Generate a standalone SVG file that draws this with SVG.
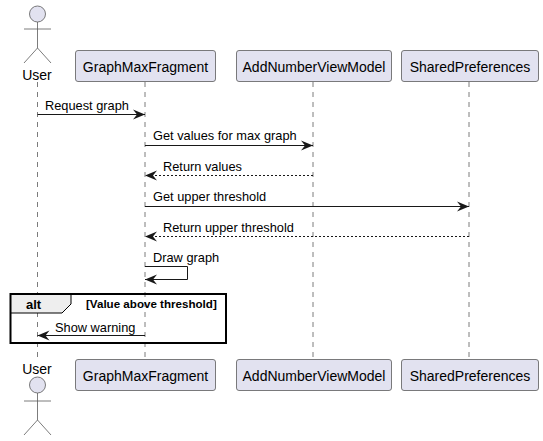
<svg xmlns="http://www.w3.org/2000/svg" width="543" height="441" viewBox="0 0 543 441">
<style>
text{font-family:"Liberation Sans",Arial,sans-serif;fill:#000}
.n{font-size:14px}
.m{font-size:12.8px}
.box{fill:#E2E2F0;stroke:#5B5B5B;stroke-width:.8}
.act{fill:none;stroke:#5B5B5B;stroke-width:.8}
.head{fill:#E2E2F0;stroke:#5B5B5B;stroke-width:.8}
.life{stroke:#5B5B5B;stroke-width:.8;stroke-dasharray:5 5;fill:none}
.msg{stroke:#181818;stroke-width:1;fill:none}
.dash{stroke-dasharray:2 2}
.ah{fill:#181818}
</style>
<defs>
<marker id="arrow" markerUnits="userSpaceOnUse" markerWidth="13" markerHeight="12" refX="12" refY="6" orient="auto-start-reverse">
<path d="M0 1 L12 6 L0 11 L4 6 Z" class="ah"/>
</marker>
</defs>
<rect width="543" height="441" fill="#fff"/>
<g id="lifelines">
<path class="life" d="M37.5 82V359"/>
<path class="life" d="M145 82V359"/>
<path class="life" d="M313 82V359"/>
<path class="life" d="M469 82V359"/>
</g>
<g id="alt-frame">
<path d="M10.5 294H71V304L62 313H10.5Z" fill="#EEEEEE" stroke="none"/>
<path d="M71 294V304L62 313H10.5" fill="none" stroke="#000" stroke-width="1"/>
<rect x="10.500" y="294" width="215.500" height="49" fill="none" stroke="#000" stroke-width="2"/>
<text x="26" y="309" font-size="13" font-weight="700">alt</text>
<text x="86" y="308" font-size="11.600" font-weight="700">[Value above threshold]</text>
</g>
<g id="connectors">
<path class="msg" d="M37.500 114.500H145" marker-end="url(#arrow)"/>
<path class="msg" d="M145 145.500H313" marker-end="url(#arrow)"/>
<path class="msg dash" d="M313 175.500H145" marker-end="url(#arrow)"/>
<path class="msg" d="M145 206.500H469" marker-end="url(#arrow)"/>
<path class="msg dash" d="M469 236.500H145" marker-end="url(#arrow)"/>
<path class="msg" d="M145 266.500H187.500V279.500H145" marker-end="url(#arrow)"/>
<path class="msg" d="M145 335.500H37.500" marker-end="url(#arrow)"/>
</g>
<g id="message-labels">
<text class="m" x="45" y="110">Request graph</text>
<text class="m" x="153" y="140">Get values for max graph</text>
<text class="m" x="163" y="171">Return values</text>
<text class="m" x="153" y="201">Get upper threshold</text>
<text class="m" x="163" y="232">Return upper threshold</text>
<text class="m" x="153" y="262">Draw graph</text>
<text class="m" x="55" y="332">Show warning</text>
</g>
<g id="user-top">
<circle class="head" cx="37.500" cy="14" r="8"/>
<path class="act" d="M37.500 22V48M24 29H51M24 63L37.500 48L51 63"/>
<text class="n" x="37" y="80" text-anchor="middle">User</text>
</g>
<g id="graphmaxfragment-top">
<rect class="box" x="75.500" y="50.500" width="140" height="31" rx="2.500"/>
<text class="n" x="145.500" y="72" text-anchor="middle">GraphMaxFragment</text>
</g>
<g id="addnumberviewmodel-top">
<rect class="box" x="236.500" y="50.500" width="155" height="31" rx="2.500"/>
<text class="n" x="314" y="72" text-anchor="middle">AddNumberViewModel</text>
</g>
<g id="sharedpreferences-top">
<rect class="box" x="401.500" y="50.500" width="137" height="31" rx="2.500"/>
<text class="n" x="470" y="72" text-anchor="middle">SharedPreferences</text>
</g>
<g id="user-bottom">
<text class="n" x="37" y="374" text-anchor="middle">User</text>
<circle class="head" cx="37.500" cy="385" r="8"/>
<path class="act" d="M37.500 393V420M24 401H51M24 435L37.500 420L51 435"/>
</g>
<g id="graphmaxfragment-bottom">
<rect class="box" x="75.500" y="359.500" width="140" height="31" rx="2.500"/>
<text class="n" x="145.500" y="381" text-anchor="middle">GraphMaxFragment</text>
</g>
<g id="addnumberviewmodel-bottom">
<rect class="box" x="236.500" y="359.500" width="155" height="31" rx="2.500"/>
<text class="n" x="314" y="381" text-anchor="middle">AddNumberViewModel</text>
</g>
<g id="sharedpreferences-bottom">
<rect class="box" x="401.500" y="359.500" width="137" height="31" rx="2.500"/>
<text class="n" x="470" y="381" text-anchor="middle">SharedPreferences</text>
</g>
</svg>
